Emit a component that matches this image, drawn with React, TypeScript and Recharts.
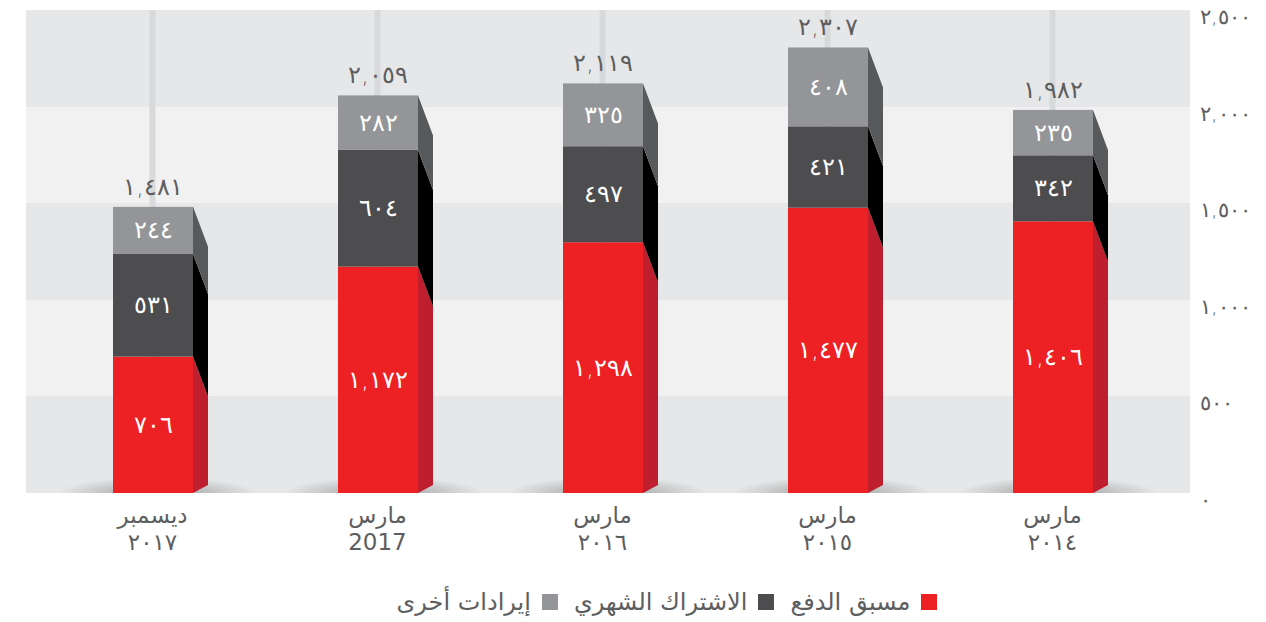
import React from 'react';
import { BarChart, Bar, XAxis, YAxis, CartesianGrid, Legend, LabelList } from 'recharts';

const monthLabels = ['ديسمبر', 'مارس', 'مارس', 'مارس', 'مارس'];
const yearLabels = ['٢٠١٧', '2017', '٢٠١٦', '٢٠١٥', '٢٠١٤'];
const prepaid = [706, 1172, 1298, 1477, 1406];
const subscription = [531, 604, 497, 421, 342];
const other = [244, 282, 325, 408, 235];
const totals = [1481, 2059, 2119, 2307, 1982];
const yTicks = [0, 500, 1000, 1500, 2000, 2500];
const yTickLabels = ['٠', '٥٠٠', '١,٠٠٠', '١,٥٠٠', '٢,٠٠٠', '٢,٥٠٠'];
const seriesNames = ['مسبق الدفع', 'الاشتراك الشهري', 'إيرادات أخرى'];

const COLORS = {
  red: '#ed2024',
  redSide: '#be1e2d',
  dark: '#4d4d4f',
  darkSide: '#000000',
  grey: '#939598',
  greySide: '#58595b',
};

const FONT = '"DejaVu Sans", "Noto Sans", sans-serif';
const TEXT = '#5d5e60';
const PAD_L = 14;
const PAD_R = 25;

const data = monthLabels.map((m, i) => ({
  key: i,
  month: m,
  year: yearLabels[i],
  prepaid: prepaid[i],
  subscription: subscription[i],
  other: other[i],
  total: totals[i],
}));

const ar = (n: number) => {
  const s = n.toLocaleString('en-US');
  return s.replace(/[0-9]/g, (d) => String.fromCharCode(0x0660 + Number(d)));
};

const SIDE_W = 15;
const SIDE_D = 40;

const makeShape = (front: string, side: string, bottom: boolean) => (props: any) => {
  const { x, y, width, height } = props;
  if (height == null || width == null) return null;
  const xr = x + width;
  const base = y + height;
  const sidePts = bottom
    ? `${xr},${y} ${xr + SIDE_W},${y + SIDE_D} ${xr + SIDE_W},${base - 8} ${xr},${base}`
    : `${xr},${y} ${xr + SIDE_W},${y + SIDE_D} ${xr + SIDE_W},${base + SIDE_D} ${xr},${base}`;
  const cx = x + width / 2 + 5;
  const rx = 100;
  const ry = 16;
  return (
    <g>
      {bottom && (
        <path
          d={`M${cx - rx},${base} A${rx},${ry} 0 0 1 ${cx + rx},${base} Z`}
          fill="url(#floorShadow)"
        />
      )}
      <polygon points={sidePts} fill={side} />
      <rect x={x} y={y} width={width} height={height} fill={front} />
    </g>
  );
};

const SegLabel = (props: any) => {
  const { x, y, width, height, value } = props;
  return (
    <text
      x={x + width / 2}
      y={y + height / 2}
      textAnchor="middle"
      dominantBaseline="central"
      fill="#ffffff"
      fontSize={24}
      fontWeight={300}
      fontFamily={FONT}
    >
      {ar(value)}
    </text>
  );
};

const TotalLabel = (props: any) => {
  const { x, y, width, value } = props;
  return (
    <text
      x={x + width / 2}
      y={y - 20}
      textAnchor="middle"
      dominantBaseline="central"
      fill={TEXT}
      fontSize={24}
      fontWeight={300}
      fontFamily={FONT}
    >
      {ar(value)}
    </text>
  );
};

const XTick = (props: any) => {
  const { x, y, payload } = props;
  const i = payload.index;
  return (
    <text x={x} y={y} textAnchor="middle" fill={TEXT} fontSize={23} fontFamily={FONT}>
      <tspan x={x} dy={22}>{monthLabels[i]}</tspan>
      <tspan x={x} dy={27}>{yearLabels[i]}</tspan>
    </text>
  );
};

const YTick = (props: any) => {
  const { x, y, payload } = props;
  return (
    <text x={x} y={y + 7} textAnchor="start" dominantBaseline="central" fill={TEXT}
      fontSize={21} fontWeight={300} fontFamily={FONT}>
      {yTickLabels[yTicks.indexOf(payload.value)]}
    </text>
  );
};

const legendColors = [COLORS.red, COLORS.dark, COLORS.grey];

const LegendContent = () => (
  <div
    style={{
      direction: 'rtl',
      display: 'flex',
      justifyContent: 'center',
      alignItems: 'center',
      fontFamily: FONT,
      fontSize: 24,
      color: TEXT,
      paddingTop: 6,
      paddingLeft: 26,
    }}
  >
    {seriesNames.map((n, i) => (
      <div key={n} style={{ display: 'flex', alignItems: 'center', marginLeft: 16 }}>
        <span
          style={{
            display: 'inline-block',
            width: 16,
            height: 16,
            background: legendColors[i],
            marginLeft: 11,
          }}
        />
        <span>{n}</span>
      </div>
    ))}
  </div>
);

const gridVerticals = (p: any) => {
  const o = p?.offset;
  if (!o || typeof o.left !== 'number' || typeof o.width !== 'number') return [];
  const band = (o.width - PAD_L - PAD_R) / data.length;
  return data.map((_, i) => o.left + PAD_L + band * (i + 0.5));
};

export default function App() {
  return (
    <div style={{ position: 'absolute', left: 0, top: 0, width: 1266, height: 622, background: '#ffffff' }}>
      <BarChart
        width={1266}
        height={622}
        data={data}
        margin={{ top: 10, right: 0, left: 26, bottom: 0 }}
        barSize={80}
      >
        <defs>
          <radialGradient
            id="floorShadow"
            cx="0.5"
            cy="1"
            r="0.5"
            fx="0.5"
            fy="1"
            gradientTransform="translate(0.5,1) scale(1,2) translate(-0.5,-1)"
          >
            <stop offset="0%" stopColor="#000" stopOpacity={0.4} />
            <stop offset="45%" stopColor="#000" stopOpacity={0.18} />
            <stop offset="100%" stopColor="#000" stopOpacity={0} />
          </radialGradient>
        </defs>
        <CartesianGrid
          horizontal={true}
          vertical={false}
          stroke="none"
          horizontalFill={['#e6e7e8', '#f1f1f2']}
          fillOpacity={1}
        />
        <CartesianGrid
          horizontal={false}
          vertical={true}
          stroke="#d8d9da"
          strokeWidth={6}
          verticalCoordinatesGenerator={gridVerticals}
        />
        <XAxis
          dataKey="key"
          type="category"
          height={89}
          padding={{ left: PAD_L, right: PAD_R }}
          axisLine={false}
          tickLine={false}
          tick={<XTick />}
          interval={0}
        />
        <YAxis
          orientation="right"
          width={76}
          domain={[0, 2500]}
          ticks={yTicks}
          axisLine={false}
          tickLine={false}
          tickSize={8}
          tickMargin={2}
          tick={<YTick />}
        />
        <Legend verticalAlign="bottom" height={40} content={<LegendContent />} />
        <Bar dataKey="prepaid" stackId="a" fill={COLORS.red} isAnimationActive={false}
          shape={makeShape(COLORS.red, COLORS.redSide, true)}>
          <LabelList dataKey="prepaid" content={<SegLabel />} />
        </Bar>
        <Bar dataKey="subscription" stackId="a" fill={COLORS.dark} isAnimationActive={false}
          shape={makeShape(COLORS.dark, COLORS.darkSide, false)}>
          <LabelList dataKey="subscription" content={<SegLabel />} />
        </Bar>
        <Bar dataKey="other" stackId="a" fill={COLORS.grey} isAnimationActive={false}
          shape={makeShape(COLORS.grey, COLORS.greySide, false)}>
          <LabelList dataKey="other" content={<SegLabel />} />
          <LabelList dataKey="total" content={<TotalLabel />} />
        </Bar>
      </BarChart>
    </div>
  );
}
